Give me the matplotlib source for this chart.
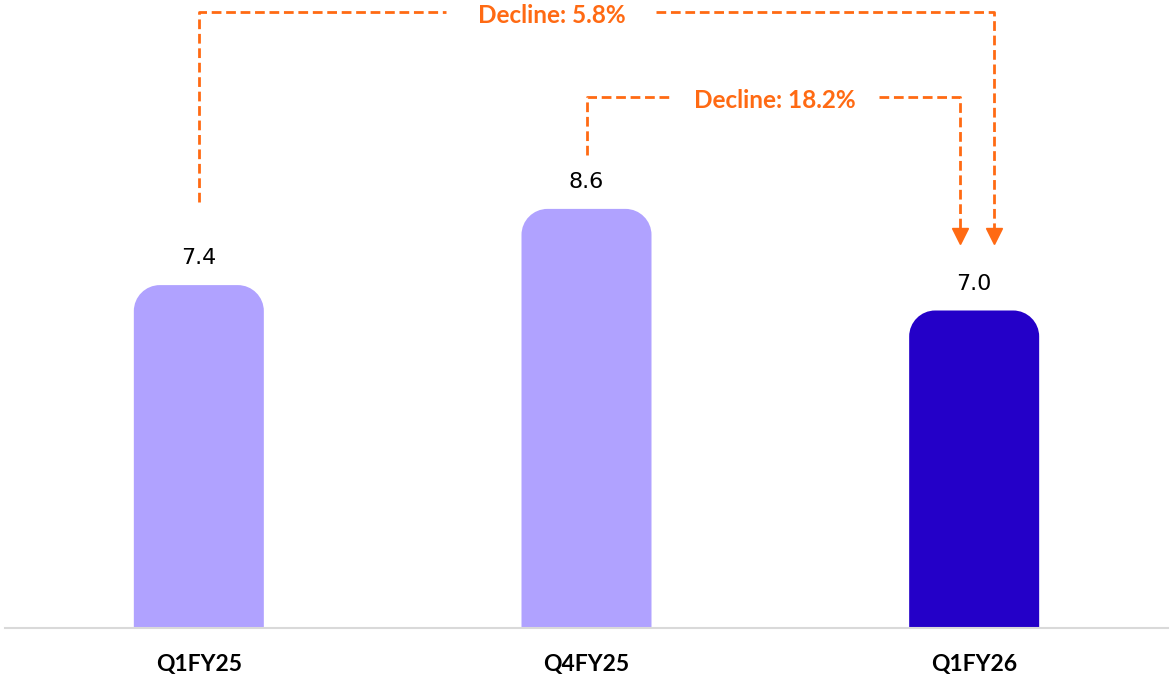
import matplotlib.pyplot as plt
from matplotlib.path import Path
from matplotlib.patches import PathPatch

quarters = ["Q1FY25", "Q4FY25", "Q1FY26"]
values = [7.4, 8.6, 7.0]
bar_colors = ["#B0A2FF", "#B0A2FF", "#2400C8"]
declines = ["Decline: 5.8%", "Decline: 18.2%"]

orange = "#FF6A13"
W, H = 1172, 681

fig = plt.figure(figsize=(W / 100, H / 100), dpi=100)
ax = fig.add_axes([5 / W, 1 - 628 / H, 1163 / W, 628 / H])
ymin, ymax = 2.0, 2.0 + 628 / 63.5
ax.set_xlim(-0.5, 2.5)
ax.set_ylim(ymin, ymax)

# data units per pixel
dx = 3.0 / 1163
dy = (ymax - ymin) / 628


def rounded_bar(xc, top, width, color, r=26):
    x0, x1 = xc - width / 2, xc + width / 2
    rx, ry = r * dx, r * dy
    k = 0.5523
    verts = [(x0, ymin), (x0, top - ry),
             (x0, top - ry + k * ry), (x0 + rx - k * rx, top), (x0 + rx, top),
             (x1 - rx, top),
             (x1 - rx + k * rx, top), (x1, top - ry + k * ry), (x1, top - ry),
             (x1, ymin), (x0, ymin)]
    codes = [Path.MOVETO, Path.LINETO,
             Path.CURVE4, Path.CURVE4, Path.CURVE4,
             Path.LINETO,
             Path.CURVE4, Path.CURVE4, Path.CURVE4,
             Path.LINETO, Path.CLOSEPOLY]
    ax.add_patch(PathPatch(Path(verts, codes), facecolor=color, edgecolor="none"))


bw = 130 * dx
for i, (v, c) in enumerate(zip(values, bar_colors)):
    rounded_bar(i, v, bw, c)
    ax.text(i, v + 27 * dy, f"{v:.1f}", ha="center", va="center",
            fontsize=16, color="black", family="DejaVu Sans")

for s in ["top", "right", "left"]:
    ax.spines[s].set_visible(False)
ax.spines["bottom"].set_color("#D9D9D9")
ax.spines["bottom"].set_linewidth(1.5)
ax.set_yticks([])
ax.set_xticks(range(len(quarters)))
ax.set_xticklabels(quarters, fontsize=16.5, fontweight="bold", family="Lato")
ax.tick_params(axis="x", length=0, pad=19)

dash = dict(color=orange, lw=2.0, linestyle=(0, (3.5, 1.7)))
arrow_tip = 7.0 + 1.06
head_top = arrow_tip + 15 * dy

# outer bracket: Q1FY25 -> Q1FY26
y_out = 11.70
ax.plot([0, 0, 0.637], [values[0] + 1.31, y_out, y_out], **dash)
ax.plot([1.180, 2.052, 2.052], [y_out, y_out, head_top], **dash)
ax.plot([2.052], [arrow_tip + 7.5 * dy], marker="v", ms=11, color=orange)
ax.text(0.910, y_out - 3 * dy, declines[0], ha="center", va="center",
        fontsize=17.5, fontweight="bold", color=orange, family="Lato")

# inner bracket: Q4FY25 -> Q1FY26
y_in = 10.36
ax.plot([1, 1, 1.214], [values[1] + 0.85, y_in, y_in], **dash)
ax.plot([1.755, 1.964, 1.964], [y_in, y_in, head_top], **dash)
ax.plot([1.964], [arrow_tip + 7.5 * dy], marker="v", ms=11, color=orange)
ax.text(1.487, y_in - 3 * dy, declines[1], ha="center", va="center",
        fontsize=17.5, fontweight="bold", color=orange, family="Lato")

fig.savefig("out.png", dpi=100)
